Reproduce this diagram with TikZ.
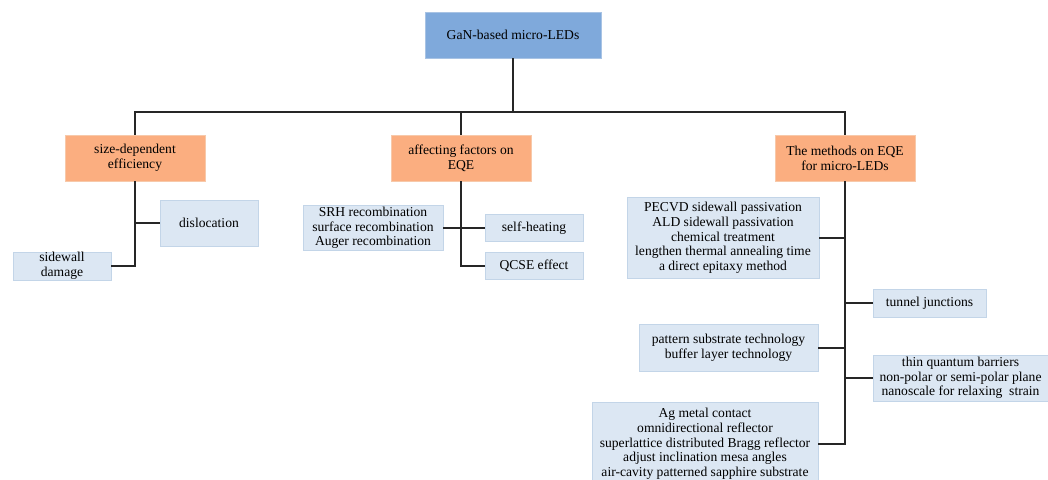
\documentclass[tikz,border=0pt]{standalone}
\usepackage{fontspec}
\setmainfont{Liberation Serif}
\definecolor{topfill}{HTML}{7FA9DB}
\definecolor{topdraw}{HTML}{A8C3E4}
\definecolor{orfill}{HTML}{FBAE80}
\definecolor{ordraw}{HTML}{F7C9AA}
\definecolor{bfill}{HTML}{DCE7F3}
\definecolor{bdraw}{HTML}{C3D5E8}
\tikzset{
  box/.style={rectangle, inner sep=0pt, align=center, line width=0.8pt,
    font=\fontsize{13.6}{14.7}\selectfont, text=black},
  topbox/.style={box, fill=topfill, draw=topdraw},
  catbox/.style={box, fill=orfill, draw=ordraw},
  leafbox/.style={box, fill=bfill, draw=bdraw},
  conn/.style={line width=1.4pt, black!85}
}
\begin{document}
\begin{tikzpicture}[x=1pt,y=-1pt]
\useasboundingbox (0,0) rectangle (1048,479);
\clip (0,0) rectangle (1048,479);
% top
\node[topbox, minimum width=176pt, minimum height=46pt] (top) at (513,35) {GaN-based micro-LEDs};
\coordinate (bus) at (513,112);
% categories
\node[catbox, minimum width=140pt, minimum height=46pt] (c1) at (135,158) {size-dependent\\efficiency};
\node[catbox, minimum width=140pt, minimum height=46pt] (c2) at (461,158) {affecting factors on\\EQE};
\node[catbox, minimum width=140pt, minimum height=46pt] (c3) at (845,158) {The methods on EQE\\for micro-LEDs};
% leaves of c1
\node[leafbox, minimum width=98pt, minimum height=46pt] (dis) at (209,223) {dislocation};
\node[leafbox, minimum width=98pt, minimum height=28pt] (sd) at (62,266) {sidewall\\damage};
% leaves of c2
\node[leafbox, minimum width=140pt, minimum height=45pt] (srh) at (373,228) {SRH recombination\\surface recombination\\Auger recombination};
\node[leafbox, minimum width=98pt, minimum height=27pt] (sh) at (534,228) {self-heating};
\node[leafbox, minimum width=98pt, minimum height=27pt] (qcse) at (534,266) {QCSE effect};
% leaves of c3
\node[leafbox, minimum width=192pt, minimum height=81pt] (pec) at (723,238) {PECVD sidewall passivation\\ALD sidewall passivation\\chemical treatment\\lengthen thermal annealing time\\a direct epitaxy method};
\node[leafbox, minimum width=113pt, minimum height=28pt] (tj) at (929.5,303) {tunnel junctions};
\node[leafbox, minimum width=179pt, minimum height=47pt] (pst) at (728.5,348) {pattern substrate technology\\buffer layer technology};
\node[leafbox, minimum width=175pt, minimum height=46pt] (tqb) at (960.5,378) {thin quantum barriers\\non-polar or semi-polar plane\\nanoscale for relaxing\ \ strain};
\node[leafbox, minimum width=226pt, minimum height=84pt] (ag) at (705,444) {Ag metal contact\\omnidirectional reflector\\superlattice distributed Bragg reflector\\adjust inclination mesa angles\\air-cavity patterned sapphire substrate};
% connectors
\draw[conn] (top.south) -- (bus);
\draw[conn] (c1.north) |- (bus) -| (c3.north);
\draw[conn] (c2.north) -- (c2.north |- bus);
\draw[conn] (c1.south) |- (sd.east);
\draw[conn] (c1.south |- dis.west) -- (dis.west);
\draw[conn] (srh.east) -- (sh.west);
\draw[conn] (c2.south) |- (qcse.west);
\draw[conn] (c3.south) |- (ag.east);
\draw[conn] (pec.east) -- (pec.east -| c3.south);
\draw[conn] (pst.east) -- (pst.east -| c3.south);
\draw[conn] (c3.south |- tj.west) -- (tj.west);
\draw[conn] (c3.south |- tqb.west) -- (tqb.west);
\end{tikzpicture}
\end{document}
